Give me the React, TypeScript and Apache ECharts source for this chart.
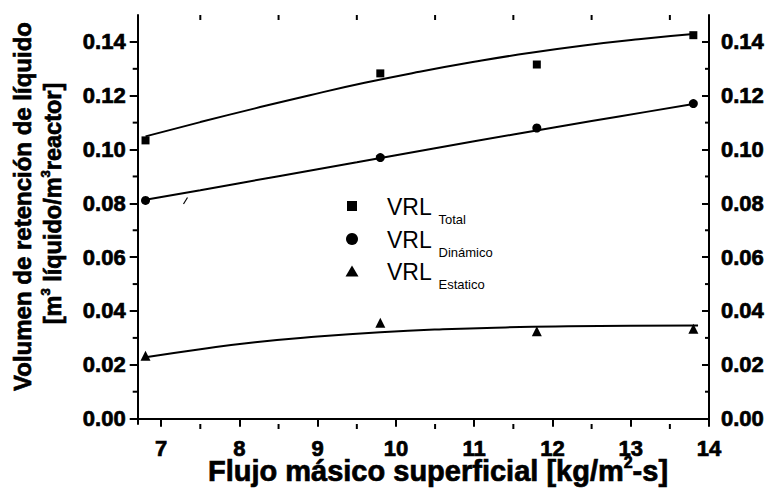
import React, { useEffect, useRef } from "react";
import * as echarts from "echarts";

const FONT = '"Liberation Sans", Arial, Helvetica, sans-serif';

// Measured points
const totalPoints: [number, number][] = [[6.8, 0.1034], [9.8, 0.1283], [11.8, 0.1316], [13.8, 0.1425]];
const dinamicoPoints: [number, number][] = [[6.8, 0.0811], [9.8, 0.097], [11.8, 0.108], [13.8, 0.1171]];
const estaticoPoints: [number, number][] = [[6.8, 0.0234], [9.8, 0.0356], [11.8, 0.0325], [13.8, 0.0334]];

// Fitted curves
const totalFit: [number, number][] = [[6.8, 0.1049], [7.5, 0.1102], [8.2, 0.1153], [8.9, 0.1202], [9.6, 0.1248], [10.3, 0.1289], [11.0, 0.1326], [11.7, 0.1359], [12.4, 0.1387], [13.1, 0.1410], [13.8, 0.1429]];
const dinamicoFit: [number, number][] = [[6.8, 0.0813], [7.5, 0.0849], [8.5, 0.0901], [9.5, 0.0953], [10.5, 0.1005], [11.5, 0.1056], [12.5, 0.1106], [13.2, 0.1140], [13.8, 0.1169]];
const estaticoFit: [number, number][] = [[6.8, 0.0228], [7.5, 0.0258], [8.2, 0.0284], [9.0, 0.0305], [9.8, 0.0321], [10.6, 0.0332], [11.4, 0.0339], [12.2, 0.0343], [13.0, 0.0345], [13.86, 0.0346]];

// Axis ticks
const xMajor = [7, 8, 9, 10, 11, 12, 13, 14];
const xMinor = [7.5, 8.5, 9.5, 10.5, 11.5, 12.5, 13.5];
const yMajor = [0, 0.02, 0.04, 0.06, 0.08, 0.1, 0.12, 0.14];
const yMinor = [0.01, 0.03, 0.05, 0.07, 0.09, 0.11, 0.13];
const X_MIN = 6.7, X_MAX = 14, Y_MIN = -0.002, Y_MAX = 0.15;

const legendRows = [
  { symbol: "rect", main: "VRL", sub: "Total" },
  { symbol: "circle", main: "VRL", sub: "Dinámico" },
  { symbol: "triangle", main: "VRL", sub: "Estatico" },
];

export default function App() {
  const ref = useRef<HTMLDivElement>(null);
  useEffect(() => {
    if (!ref.current) return;
    const chart = echarts.init(ref.current, undefined, { renderer: "svg" });
    const line = { show: true, lineStyle: { color: "#000", width: 2 } };
    const labelStyle = {
      color: "#000", fontSize: 22, fontWeight: "bold" as const, fontFamily: FONT,
      textBorderColor: "#000", textBorderWidth: 0.7,
    };
    const mkX = (pos: string, len: number, inside: boolean, labels: boolean) => ({
      type: "value", position: pos, min: X_MIN, max: X_MAX,
      axisLine: line,
      splitLine: { show: false },
      axisTick: { show: true, customValues: xMajor, length: len, inside, lineStyle: { color: "#000", width: 2 } },
      axisLabel: labels
        ? { show: true, customValues: xMajor, margin: 13, ...labelStyle, formatter: (v: number) => String(v) }
        : { show: false },
    });
    const mkY = (pos: string, len: number, inside: boolean) => ({
      type: "value", position: pos, min: Y_MIN, max: Y_MAX,
      axisLine: line,
      splitLine: { show: false },
      axisTick: { show: true, customValues: yMajor, length: len, inside, lineStyle: { color: "#000", width: 2 } },
      axisLabel: { show: true, customValues: yMajor, margin: 12, ...labelStyle, formatter: (v: number) => v.toFixed(2) },
    });

    const fitSeries = (data: [number, number][]) => ({
      type: "line", data, smooth: true, showSymbol: false, symbol: "none",
      lineStyle: { color: "#000", width: 2 }, z: 2, silent: true,
    });
    const ptSeries = (data: [number, number][], symbol: string, size: number) => ({
      type: "scatter", data, symbol, symbolSize: size, itemStyle: { color: "#000", opacity: 1 }, z: 3,
    });
    // minor tick marks drawn through the axes' scales
    const tickSeries = (data: [number, number][], size: [number, number], offset: [number, number]) => ({
      type: "scatter", data, symbol: "rect", symbolSize: size, symbolOffset: offset, clip: false, silent: true,
      itemStyle: { color: "#000", opacity: 1 }, z: 4,
    });

    const graphics: any[] = [];
    const rowY = [206, 239, 271.5];
    legendRows.forEach((r, i) => {
      const cy = rowY[i];
      if (r.symbol === "rect") graphics.push({ type: "rect", shape: { x: 347, y: cy - 5, width: 10, height: 10 }, style: { fill: "#000" } });
      else if (r.symbol === "circle") graphics.push({ type: "circle", shape: { cx: 352, cy, r: 6 }, style: { fill: "#000" } });
      else graphics.push({ type: "polygon", shape: { points: [[352, cy - 6], [358.5, cy + 5], [345.5, cy + 5]] }, style: { fill: "#000" } });
      graphics.push({ type: "text", x: 387, y: cy + 0.5, style: { text: r.main, fontSize: 23, fontFamily: FONT, fill: "#000", textAlign: "left", textVerticalAlign: "middle" } });
      graphics.push({ type: "text", x: 438.5, y: cy + 13, style: { text: r.sub, fontSize: 13, fontFamily: FONT, fill: "#000", textAlign: "left", textVerticalAlign: "middle" } });
    });
    // stray mark
    graphics.push({ type: "line", shape: { x1: 183.5, y1: 204, x2: 187.5, y2: 197.5 }, style: { stroke: "#000", lineWidth: 1.2 } });
    const bold = (fs: number, lh: number, va: string) => ({
      font: `bold ${fs}px ${FONT}`,
      fontSize: fs, fontWeight: "bold", fontFamily: FONT, fill: "#000",
      stroke: "#000", lineWidth: 0.7,
      lineHeight: lh, verticalAlign: va,
    });
    // Y title
    graphics.push({
      type: "text", x: 22, y: 206.5, rotation: Math.PI / 2,
      style: {
        text: "Volumen de retención de líquido", fontSize: 24, fontWeight: "bold", fontFamily: FONT,
        fill: "#000", stroke: "#000", lineWidth: 0.7, textAlign: "center", textVerticalAlign: "middle",
      },
    });
    graphics.push({
      type: "text", x: 52, y: 203.5, rotation: Math.PI / 2,
      style: {
        text: "{b|[m}{s|3}{b| líquido/m}{s|3}{b|reactor]}",
        textAlign: "center", textVerticalAlign: "middle", fill: "#000",
        rich: { b: bold(23.5, 26, "bottom"), s: bold(13, 13, "top") },
      },
    });
    // X title
    graphics.push({
      type: "text", x: 438, y: 470,
      style: {
        text: "{b|Flujo másico superficial [kg/m}{s|2}{b|-s]}",
        textAlign: "center", textVerticalAlign: "middle", fill: "#000",
        rich: { b: bold(29, 31, "bottom"), s: bold(16, 16, "top") },
      },
    });

    chart.setOption({
      animation: false,
      backgroundColor: "#fff",
      grid: { left: 137.7, right: 56, top: 15, bottom: 67, containLabel: false, outerBoundsMode: "none" },
      xAxis: [mkX("bottom", 8, false, true), mkX("top", 8, true, false)],
      yAxis: [mkY("left", 8, false), mkY("right", 7, true)],
      series: [
        fitSeries(totalFit),
        fitSeries(dinamicoFit),
        fitSeries(estaticoFit),
        ptSeries(totalPoints, "rect", 8),
        ptSeries(dinamicoPoints, "circle", 9),
        ptSeries(estaticoPoints, "triangle", 10),
        tickSeries(xMinor.map((v) => [v, Y_MIN] as [number, number]), [2, 5], [0, 2.5]),
        tickSeries(xMinor.map((v) => [v, Y_MAX] as [number, number]), [2, 5], [0, 2.5]),
        tickSeries(yMinor.map((v) => [X_MIN, v] as [number, number]), [5, 2], [-2.5, 0]),
        tickSeries(yMinor.map((v) => [X_MAX, v] as [number, number]), [4, 2], [-2, 0]),
      ],
      graphic: graphics,
    });
    return () => chart.dispose();
  }, []);
  return <div ref={ref} style={{ position: "absolute", left: 0, top: 0, width: 765, height: 491, background: "#fff" }} />;
}
